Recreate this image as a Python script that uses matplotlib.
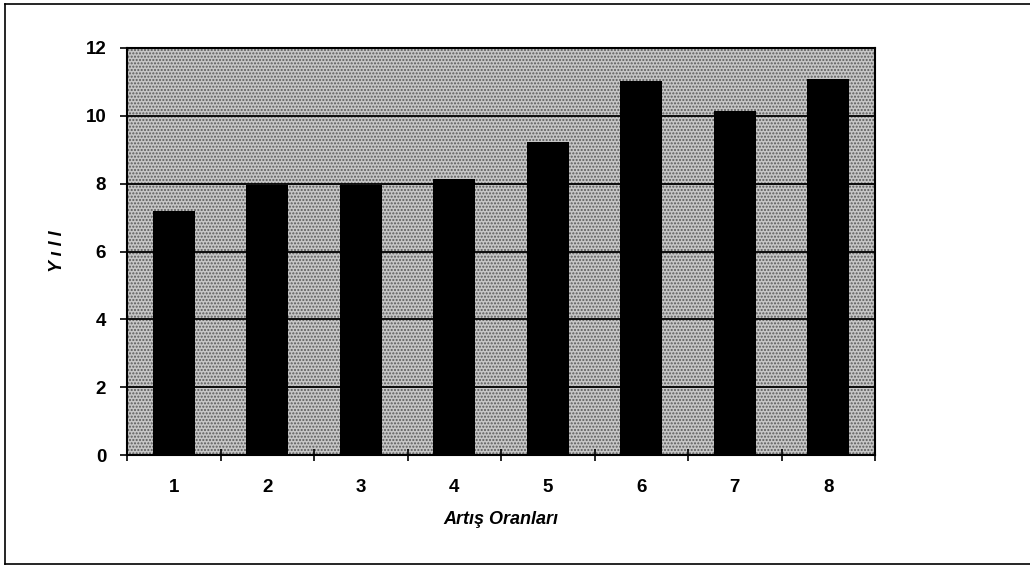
import matplotlib
matplotlib.use("Agg")
import matplotlib.pyplot as plt
import numpy as np
from matplotlib.lines import Line2D

categories = ["1", "2", "3", "4", "5", "6", "7", "8"]
values = [7.2, 7.95, 7.95, 8.13, 9.24, 11.03, 10.15, 11.08]
y_ticks = [0, 2, 4, 6, 8, 10, 12]
x_label = "Artış Oranları"
y_label = "Y ı l l"

plt.rcParams['font.family'] = ['Liberation Sans', 'DejaVu Sans']
plt.rcParams['hatch.color'] = '#5a5a5a'
plt.rcParams['hatch.linewidth'] = 1.0

fig = plt.figure(figsize=(10.30, 5.66), dpi=100)
ax = fig.add_axes([127/1030, 1-455/566, (875-127)/1030, (455-48)/566])

ax.set_facecolor('#c6c6c6')
ax.patch.set_hatch('.....')
ax.patch.set_edgecolor('#5a5a5a')

x = np.arange(1, len(categories) + 1)
ax.bar(x, values, width=0.45, color='black', zorder=3)

ax.set_xlim(0.5, len(categories) + 0.5)
ax.set_ylim(0, 12)
ax.set_yticks(y_ticks)
ax.set_yticklabels([str(t) for t in y_ticks], fontsize=13.5, fontweight='bold')
ax.yaxis.grid(True, color='black', linewidth=1.3, zorder=1)
ax.set_axisbelow(True)

ax.set_xticks(np.arange(0.5, len(categories) + 1, 1.0))
ax.set_xticklabels([])
ax.set_xticks(x, minor=True)
ax.set_xticklabels(categories, minor=True, fontsize=13.5, fontweight='bold')
ax.tick_params(axis='x', which='major', direction='inout', length=9, width=1.2)
ax.tick_params(axis='x', which='minor', length=0, pad=17)
ax.tick_params(axis='y', direction='out', length=5, width=1.2, pad=10)

for s in ax.spines.values():
    s.set_linewidth(1.5)
    s.set_color('black')

ax.set_xlabel(x_label, fontsize=13, fontweight='bold', style='italic', labelpad=11)
ax.set_ylabel(y_label, fontsize=13, fontweight='bold', style='italic', labelpad=14)

# outer frame
W, H = 1030, 566
fig.add_artist(Line2D([5/W, 5/W], [1-4/H, 1-564/H], color='black', linewidth=1.2))
fig.add_artist(Line2D([5/W, 1.0], [1-4/H, 1-4/H], color='black', linewidth=1.2))
fig.add_artist(Line2D([5/W, 1.0], [1-564/H, 1-564/H], color='black', linewidth=1.2))

fig.savefig("out.png", dpi=100)
